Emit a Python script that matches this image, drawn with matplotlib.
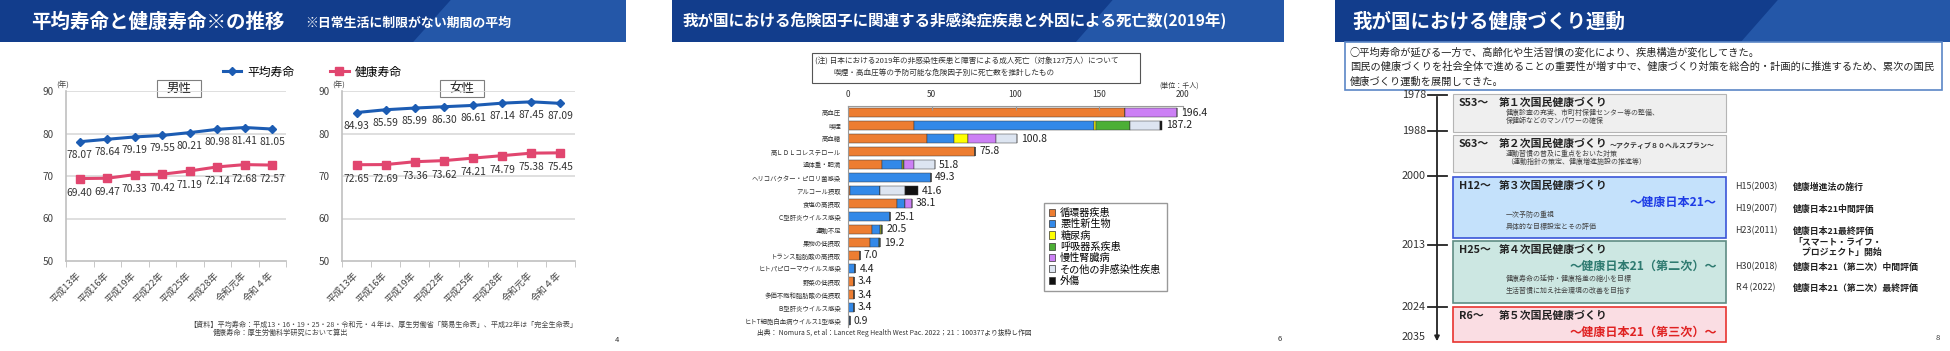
import numpy as np
import matplotlib
matplotlib.use('Agg')
import matplotlib.pyplot as plt
from matplotlib.patches import Rectangle, Polygon, Patch

plt.rcParams['font.family'] = ['Noto Sans CJK JP', 'DejaVu Sans']

W, H = 1950, 351

# ---- スライド1: 平均寿命と健康寿命 ----
year_labels = ['平成13年', '平成16年', '平成19年', '平成22年', '平成25年', '平成28年', '令和元年', '令和４年']
male_life = [78.07, 78.64, 79.19, 79.55, 80.21, 80.98, 81.41, 81.05]
male_healthy = [69.40, 69.47, 70.33, 70.42, 71.19, 72.14, 72.68, 72.57]
female_life = [84.93, 85.59, 85.99, 86.30, 86.61, 87.14, 87.45, 87.09]
female_healthy = [72.65, 72.69, 73.36, 73.62, 74.21, 74.79, 75.38, 75.45]
y_ticks = [50, 60, 70, 80, 90]

# ---- スライド2: 危険因子別死亡数 ----
risk_factors = ['高血圧', '喫煙', '高血糖', '高ＬＤＬコレステロール', '過体重・肥満',
                'ヘリコバクター・ピロリ菌感染', 'アルコール摂取', '食塩の高摂取',
                'Ｃ型肝炎ウイルス感染', '運動不足', '果物の低摂取', 'トランス脂肪酸の高摂取',
                'ヒトパピローマウイルス感染', '野菜の低摂取', '多価不飽和脂肪酸の低摂取',
                'Ｂ型肝炎ウイルス感染', 'ヒトT細胞白血病ウイルス1型感染']
totals = [196.4, 187.2, 100.8, 75.8, 51.8, 49.3, 41.6, 38.1, 25.1, 20.5, 19.2, 7.0, 4.4, 3.4, 3.4, 3.4, 0.9]
circ = [165.3, 39.6, 47.0, 75.8, 20.5, 0, 1.2, 29.2, 0, 14.4, 13.1, 7.0, 0, 3.4, 3.4, 0, 0]
cancer = [0, 107.5, 16.1, 0, 11.7, 49.3, 17.8, 4.7, 25.1, 4.9, 5.4, 0, 4.4, 0, 0, 3.4, 0.9]
diabetes = [0, 1.0, 8.7, 0, 0.9, 0, 0, 0, 0, 0.6, 0, 0, 0, 0, 0, 0, 0]
resp = [0, 20.0, 0, 0, 0.5, 0, 0, 0, 0, 0.6, 0.7, 0, 0, 0, 0, 0, 0]
ckd = [31.1, 0, 16.8, 0, 5.9, 0, 0, 4.2, 0, 0, 0, 0, 0, 0, 0, 0, 0]
other_ncd = [0, 18.1, 12.2, 0, 12.3, 0, 15.2, 0, 0, 0, 0, 0, 0, 0, 0, 0, 0]
injury = [0, 1.0, 0, 0, 0, 0, 7.4, 0, 0, 0, 0, 0, 0, 0, 0, 0, 0]
causes = ['循環器疾患', '悪性新生物', '糖尿病', '呼吸器系疾患', '慢性腎臓病', 'その他の非感染性疾患', '外傷']
cause_colors = ['#ed7d31', '#3389e8', '#ffff00', '#4caf35', '#cc80f5', '#dde5f1', '#111111']
x_ticks2 = [0, 50, 100, 150, 200]

# ---- スライド3: 健康づくり運動 ----
timeline_years = [1978, 1988, 2000, 2013, 2024, 2035]
plan_codes = ['S53～', 'S63～', 'H12～', 'H25～', 'R6～']
plan_names = ['第１次国民健康づくり', '第２次国民健康づくり', '第３次国民健康づくり',
              '第４次国民健康づくり', '第５次国民健康づくり']
plan_subs = ['', '～アクティブ８０ヘルスプラン～', '～健康日本21～',
             '～健康日本21（第二次）～', '～健康日本21（第三次）～']
plan_notes = [['健康診査の充実、市町村保健センター等の整備、', '保健師などのマンパワーの確保'],
              ['運動習慣の普及に重点をおいた対策', '（運動指針の策定、健康増進施設の推進等）'],
              ['一次予防の重視', '具体的な目標設定とその評価'],
              ['健康寿命の延伸・健康格差の縮小を目標', '生活習慣に加え社会環境の改善を目指す'],
              []]
event_codes = ['H15(2003)', 'H19(2007)', 'H23(2011)', 'H30(2018)', 'R４(2022)']
event_texts = [['健康増進法の施行'], ['健康日本21中間評価'],
               ['健康日本21最終評価', '「スマート・ライフ・', '\u3000プロジェクト」開始'],
               ['健康日本21（第二次）中間評価'], ['健康日本21（第二次）最終評価']]
intro_lines = ['○平均寿命が延びる一方で、高齢化や生活習慣の変化により、疾患構造が変化してきた。',
               '国民の健康づくりを社会全体で進めることの重要性が増す中で、健康づくり対策を総合的・計画的に推進するため、累次の国民',
               '健康づくり運動を展開してきた。']


def px_rect(x0, y0, x1, y1):
    return [x0 / W, 1 - y1 / H, (x1 - x0) / W, (y1 - y0) / H]


fig = plt.figure(figsize=(W / 100, H / 100), dpi=100)
bg = fig.add_axes([0, 0, 1, 1])
bg.set_xlim(0, W)
bg.set_ylim(H, 0)
bg.axis('off')


def header(x0, x1, title, size, tx, ty=22):
    w = x1 - x0
    bg.add_patch(Rectangle((x0, 0), w, 42, color='#123d8c', lw=0))
    bg.add_patch(Polygon([(x0 + 0.66 * w, 42), (x0 + 0.72 * w, 0), (x1, 0), (x1, 42)],
                         closed=True, color='#2457a8', lw=0))
    bg.text(tx, ty, title, color='white', fontsize=size, fontweight='bold', va='center', ha='left')


# ===== スライド1 =====
header(0, 626, '平均寿命と健康寿命※の推移', 14, 31)
bg.text(305, 23, '※日常生活に制限がない期間の平均', color='white', fontsize=9.3,
        fontweight='bold', va='center')

blue, red = '#1c5cb3', '#e1466f'
xs = np.arange(len(year_labels))
panels = [(66, 286, '男性', male_life, male_healthy), (342, 575, '女性', female_life, female_healthy)]
handles = None
for x0, x1, sex, life, healthy in panels:
    ax = fig.add_axes(px_rect(x0, 91, x1, 261))
    l1, = ax.plot(xs, life, color=blue, lw=2.2, marker='D', ms=4.5, label='平均寿命', zorder=3)
    l2, = ax.plot(xs, healthy, color=red, lw=2.2, marker='s', ms=5.5, label='健康寿命', zorder=3)
    handles = [l1, l2]
    for xi, v in zip(xs, life):
        ax.annotate(f'{v:.2f}', (xi, v), xytext=(0, -13), textcoords='offset pixels',
                    ha='center', va='center', fontsize=7.4, color='#333333')
    for xi, v in zip(xs, healthy):
        ax.annotate(f'{v:.2f}', (xi, v), xytext=(0, -14), textcoords='offset pixels',
                    ha='center', va='center', fontsize=7.4, color='#333333')
    ax.set_xlim(-0.5, len(xs) - 0.5)
    ax.set_ylim(50, 90)
    ax.set_yticks(y_ticks)
    ax.set_yticklabels([str(t) for t in y_ticks], fontsize=7.2, color='#444444')
    ax.set_xticks(xs)
    ax.set_xticklabels(year_labels, rotation=45, ha='right', va='center',
                       rotation_mode='anchor', fontsize=6.8, color='#444444')
    ax.set_xticks(np.arange(len(xs) + 1) - 0.5, minor=True)
    ax.tick_params(axis='x', which='major', length=0, pad=9)
    ax.tick_params(axis='x', which='minor', length=4, color='#bfbfbf')
    ax.tick_params(axis='y', length=0, pad=9)
    for yv in y_ticks[1:]:
        ax.axhline(yv, color='#d9d9d9', lw=1.2, zorder=1)
    for s in ['top', 'right']:
        ax.spines[s].set_visible(False)
    for s in ['left', 'bottom']:
        ax.spines[s].set_color('#c0c0c0')
        ax.spines[s].set_linewidth(1.2)
    ax.set_facecolor('none')
    bg.text(x0 - 10, 86, '(年)', fontsize=5.5, color='#444444', va='center', ha='left')
    cx = (x0 + x1) / 2 + 3
    bg.add_patch(Rectangle((cx - 22, 80), 44, 17, fc='white', ec='#7f7f7f', lw=0.8, zorder=5))
    bg.text(cx, 88.5, sex, fontsize=9, color='#222222', ha='center', va='center', zorder=6)

fig.legend(handles=handles, loc='center', bbox_to_anchor=(312 / W, 1 - 72 / H), ncol=2,
           frameon=False, fontsize=8.5, handlelength=1.6, columnspacing=3.0, handletextpad=0.5)

bg.text(189, 325, '【資料】平均寿命：平成13・16・19・25・28・令和元・４年は、厚生労働省「簡易生命表」、平成22年は「完全生命表」',
        fontsize=5.1, color='#444444', va='center')
bg.text(213, 333, '健康寿命：厚生労働科学研究において算出', fontsize=5.1, color='#444444', va='center')
bg.text(615, 340, '4', fontsize=5.5, color='#333333', va='center')

# ===== スライド2 =====
header(672, 1284, '我が国における危険因子に関連する非感染症疾患と外因による死亡数(2019年)', 11.2, 683, ty=20)

bg.add_patch(Rectangle((812, 53), 328, 30, fc='white', ec='#555555', lw=0.8))
bg.text(815, 62, '(注) 日本における2019年の非感染性疾患と障害による成人死亡（対象127万人）について',
        fontsize=5.5, color='#333333', va='center')
bg.text(833, 73, '喫煙・高血圧等の予防可能な危険因子別に死亡数を推計したもの',
        fontsize=5.5, color='#333333', va='center')
bg.text(1199, 86, '(単位：千人)', fontsize=5, color='#333333', va='center', ha='right')

ax2 = fig.add_axes(px_rect(848, 106, 1183, 327))
ys = np.arange(len(risk_factors))
left = np.zeros(len(risk_factors))
series = [circ, cancer, diabetes, resp, ckd, other_ncd, injury]
for vals, name, col in zip(series, causes, cause_colors):
    vals = np.array(vals)
    ax2.barh(ys, vals, left=left, height=0.66, color=col, edgecolor='#3a3a3a',
             linewidth=0.35, label=name)
    left += vals
for yi, t in zip(ys, totals):
    ax2.text(t + 2.5, yi, f'{t:.1f}', va='center', ha='left', fontsize=7.5, color='#222222')
ax2.set_xlim(0, 200)
ax2.set_ylim(len(risk_factors) - 0.5, -0.5)
ax2.xaxis.tick_top()
ax2.set_xticks(x_ticks2)
ax2.set_xticklabels([str(t) for t in x_ticks2], fontsize=6, color='#333333')
ax2.tick_params(axis='x', direction='in', length=3, color='#999999', pad=5)
ax2.set_yticks(ys)
ax2.set_yticklabels(risk_factors, fontsize=4.6, color='#333333')
ax2.tick_params(axis='y', length=0, pad=5)
for s in ['bottom', 'right']:
    ax2.spines[s].set_visible(False)
for s in ['top', 'left']:
    ax2.spines[s].set_color('#9a9a9a')
    ax2.spines[s].set_linewidth(0.8)
ax2.set_facecolor('none')
leg_handles = [Patch(facecolor=c, edgecolor='#333333', linewidth=0.5, label=n)
               for n, c in zip(causes, cause_colors)]
ax2.legend(handles=leg_handles, loc='upper left', bbox_to_anchor=(1044 / W, 1 - 203 / H),
           bbox_transform=fig.transFigure, fontsize=7.3, handlelength=0.6, handleheight=0.7,
           handletextpad=0.5, labelspacing=0.12, borderpad=0.5, borderaxespad=0,
           fancybox=False, edgecolor='#999999', framealpha=1)
bg.text(757, 333, '出典： Nomura S, et al：Lancet Reg Health West Pac. 2022；21：100377より抜粋し作図',
        fontsize=4.9, color='#333333', va='center')
bg.text(1278, 339, '6', fontsize=5.5, color='#333333', va='center')

# ===== スライド3 =====
header(1335, 1950, '我が国における健康づくり運動', 14, 1352, ty=22)
bg.add_patch(Rectangle((1345, 42), 597, 48, fc='white', ec='#5b86c6', lw=1.2))
for i, line in enumerate(intro_lines):
    bg.text(1350, 52 + 15 * i, line, fontsize=7.35, color='#222222', va='center')

tick_y = [95, 131, 176, 245, 307, 337]
axis_x = 1437
bg.annotate('', xy=(axis_x, 344), xytext=(axis_x, 94),
            arrowprops=dict(arrowstyle='-|>', color='#222222', lw=1.3, mutation_scale=7))
for yr, ty in zip(timeline_years, tick_y):
    if yr != timeline_years[-1]:
        bg.plot([axis_x - 9, axis_x + 10], [ty, ty], color='#222222', lw=1.3)
    bg.text(axis_x - 11, ty, str(yr), fontsize=7.8, color='#333333', ha='right', va='center')

box_top = [94, 135, 177, 241, 307]
box_bot = [132, 172, 238, 303, 342]
box_fc = ['#efefef', '#efefef', '#c4e1fb', '#cce7e2', '#fadde3']
box_ec = ['#b5b5b5', '#b5b5b5', '#3b55d8', '#5f8c84', '#e8332f']
sub_col = ['#222222', '#222222', '#1e3ce6', '#2e7a70', '#e02222']
bx0, bx1 = 1453, 1726
for i in range(len(plan_codes)):
    top, bot = box_top[i], box_bot[i]
    bg.add_patch(Rectangle((bx0, top), bx1 - bx0, bot - top, fc=box_fc[i], ec=box_ec[i],
                           lw=1.2 if i >= 2 else 0.8))
    bg.text(bx0 + 6, top + 9, plan_codes[i], fontsize=7.8, fontweight='bold',
            color='#222222', va='center')
    bg.text(bx0 + 46, top + 9, plan_names[i], fontsize=7.8, fontweight='bold',
            color='#222222', va='center')
    if i == 1:
        bg.text(1610, top + 10, plan_subs[i], fontsize=5.0, fontweight='bold',
                color='#333333', va='center')
    elif plan_subs[i]:
        bg.text(bx1 - 9, top + 25, plan_subs[i], fontsize=8.7, fontweight='bold',
                color=sub_col[i], va='center', ha='right')
    for j, ln in enumerate(plan_notes[i]):
        ny = top + 19 + 8 * j if i < 2 else top + 38 + 12 * j
        bg.text(bx0 + 53, ny, ln, fontsize=5.0, color='#444444', va='center')

event_y = [187, 209, 231, 267, 288]
for code, lines, ey in zip(event_codes, event_texts, event_y):
    bg.text(1735, ey, code, fontsize=6.4, color='#333333', va='center')
    for j, ln in enumerate(lines):
        bg.text(1793, ey + 10.5 * j, ln, fontsize=6.4, fontweight='bold', color='#222222',
                va='center')
bg.text(1936, 338, '8', fontsize=5.5, color='#333333', va='center')

fig.savefig('out.png', dpi=100)
